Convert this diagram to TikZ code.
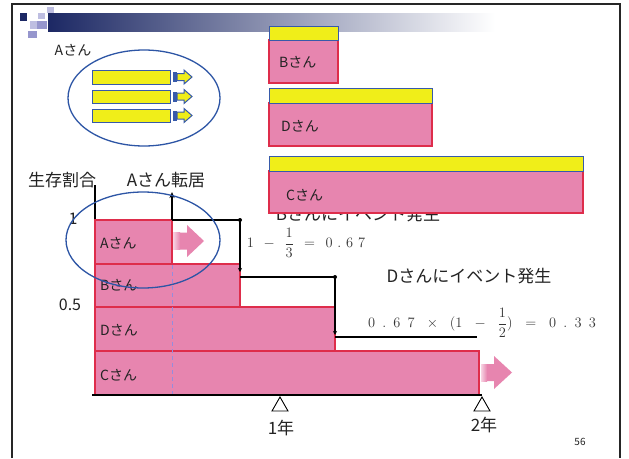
\documentclass[tikz,border=0pt]{standalone}
\usepackage[no-math]{fontspec}
\setmainfont{Noto Sans CJK JP}
\usetikzlibrary{arrows.meta}
\definecolor{pinkfill}{RGB}{231,133,175}
\definecolor{redline}{RGB}{222,45,75}
\definecolor{yel}{RGB}{240,238,25}
\definecolor{blueline}{RGB}{55,90,170}
\definecolor{ellblue}{RGB}{45,85,165}
\definecolor{navy}{RGB}{28,40,100}
\definecolor{midnavy}{RGB}{110,120,165}
\definecolor{lav1}{RGB}{190,190,225}
\definecolor{lav2}{RGB}{150,150,205}
\definecolor{dashc}{RGB}{150,140,220}
\definecolor{txt}{RGB}{35,35,35}
\newcommand{\fsz}[1]{\fontsize{#1}{#1}\selectfont}
\tikzset{
  pinkbox/.style={fill=pinkfill, draw=redline, line width=1.1pt},
  yelbox/.style={fill=yel, draw=blueline, line width=1pt},
  ell/.style={draw=ellblue, line width=1.3pt},
  lbl/.style={inner sep=0pt, text=txt},
  stepline/.style={draw=black, line width=1.2pt},
  tri/.style={draw=black, fill=white, line width=0.9pt},
}
\begin{document}
\begin{tikzpicture}[x=1pt,y=-1pt]
\useasboundingbox (0,0) rectangle (629,458);
\fill[white] (0,0) rectangle (629,458);
% slide frame
\draw[line width=1.6pt, black!85] (12,458) -- (12,4) -- (620,4) -- (620,458);
% header decoration
\shade[left color=navy, middle color=midnavy, right color=white] (48,13) rectangle (495,31);
\fill[navy] (20,13) rectangle (27,21);
\fill[lav1] (38,13) rectangle (45,19);
\fill[lav1] (47,7) rectangle (54,13);
\fill[lav1] (30,21) rectangle (37,29);
\fill[lav2] (37,21) rectangle (47,29);
\fill[lav2] (28,31) rectangle (37,38);
% top-left group (A)
\node[lbl, font=\fsz{14}] (atop) at (73,50) {Aさん};
\foreach \yt/\yb in {70/84, 90/103, 109/122}{
  \draw[yelbox] (92,\yt) rectangle (170,\yb);
  \pgfmathsetmacro{\yc}{(\yt+\yb)/2}
  \fill[blueline] (173,\yc-5) rectangle (176.5,\yc+5);
  \filldraw[fill=yel, draw=blueline, line width=1pt]
    (177,\yc-3.5) -- (184,\yc-3.5) -- (184,\yc-7) -- (192,\yc) -- (184,\yc+7) -- (184,\yc+3.5) -- (177,\yc+3.5) -- cycle;
}
\draw[ell] (144,98) ellipse [x radius=76, y radius=48];
% top-right boxes
\draw[pinkbox] (269,40) rectangle (338,83);
\draw[yelbox] (269,26) rectangle (338,40);
\node[lbl, font=\fsz{14}, anchor=west] (btop) at (279,62) {Bさん};
\draw[pinkbox] (269,103) rectangle (432,146);
\draw[yelbox] (269,88) rectangle (432,103);
\node[lbl, font=\fsz{14}, anchor=west] (dtop) at (281,126) {Dさん};
% text partially hidden behind C box
\node[lbl, font=\fsz{17}] (bev) at (358,214) {Bさんにイベント発生};
\draw[pinkbox] (269,171) rectangle (583,213);
\draw[yelbox] (269,156) rectangle (583,171);
\node[lbl, font=\fsz{14}, anchor=west] (ctop) at (286,195) {Cさん};
% axis labels
\node[lbl, font=\fsz{17}] (ylab) at (62,180) {生存割合};
\node[lbl, font=\fsz{17}] (amove) at (166,180) {Aさん転居};
\node[lbl, font=\fsz{16}] (one) at (73,219) {1};
\node[lbl, font=\fsz{16}] (half) at (70,305) {0.5};
% y axis
\draw[line width=1.2pt] (95,185) -- (95,395);
% bars
\draw[pinkbox] (95,220) rectangle (172,264);
\draw[pinkbox] (95,264) rectangle (240,307);
\draw[pinkbox] (95,307) rectangle (335,351);
\draw[pinkbox] (95,351) rectangle (479,395);
\node[lbl, font=\fsz{14}, anchor=west] (abar) at (100,243) {Aさん};
\node[lbl, font=\fsz{14}, anchor=west] (bbar) at (100,285) {Bさん};
\node[lbl, font=\fsz{14}, anchor=west] (dbar) at (100,330) {Dさん};
\node[lbl, font=\fsz{14}, anchor=west] (cbar) at (100,375) {Cさん};
% dashed line at move-out
\draw[dashc, line width=0.8pt, dash pattern=on 4pt off 3pt] (172,265) -- (172,394);
% pink block arrows
\shade[left color=pinkfill!35, right color=pinkfill] (173,232.5) rectangle (180,249.5);
\fill[pinkfill] (180,232.5) -- (187,232.5) -- (187,225) -- (204,241) -- (187,257) -- (187,249.5) -- (180,249.5) -- cycle;
\shade[left color=pinkfill!35, right color=pinkfill] (481,364) rectangle (487,381);
\fill[pinkfill] (487,364) -- (494,364) -- (494,356) -- (512,372.5) -- (494,389) -- (494,381) -- (487,381) -- cycle;
% survival step line
\coordinate (s0) at (172,220);
\coordinate (s0up) at (172,192);
\coordinate (s1) at (240,220);
\coordinate (s1d) at (240,272);
\coordinate (s2) at (240,277);
\coordinate (s3) at (335,277);
\coordinate (s3d) at (335,335);
\coordinate (s4) at (335,337);
\coordinate (s5) at (477,337);
\draw[stepline, -{Stealth[length=6pt,width=5pt]}] (s0) -- (s0up);
\draw[stepline] (s0) -- (s1);
\fill (s1) circle (2pt);
\draw[stepline, -{Stealth[length=4pt,width=4pt]}] (s1) -- (s1d);
\draw[stepline] (s2) -- (s3);
\fill (s3) circle (2pt);
\draw[stepline, -{Stealth[length=4pt,width=4pt]}] (s3) -- (s3d);
\draw[stepline] (s4) -- (s5);
% chart ellipse
\draw[ell] (143,240) ellipse [x radius=77, y radius=48];
% formulas
\node[lbl, text=black!80, font=\fsz{14}] (f1) at (306,243) {$\displaystyle 1\;\,-\;\,\frac{1}{3}\;\,=\;\,0\,\,.\,\,6\,\,7$};
\node[lbl, font=\fsz{17}] (dev) at (469,276) {Dさんにイベント発生};
\node[lbl, text=black!80, font=\fsz{14}] (f2) at (482,323) {$\displaystyle 0\,\,\,.\,\,\,6\,\,\,7\;\,\,\times\;\,\,(1\;\,\,-\;\,\,\frac{1}{2})\;\,\,=\;\,\,0\,\,\,.\,\,\,3\,\,\,3$};
% time axis
\draw[line width=1.8pt] (92,395) -- (482,395);
\draw[tri] (280,397) -- (288,411) -- (272,411) -- cycle;
\draw[tri] (482,397) -- (490,411) -- (474,411) -- cycle;
\node[lbl, font=\fsz{17}] (y1) at (281,428) {1年};
\node[lbl, font=\fsz{17}] (y2) at (484,425) {2年};
\node[lbl, font=\fsz{10}] (pg) at (580,442) {56};
\end{tikzpicture}
\end{document}
